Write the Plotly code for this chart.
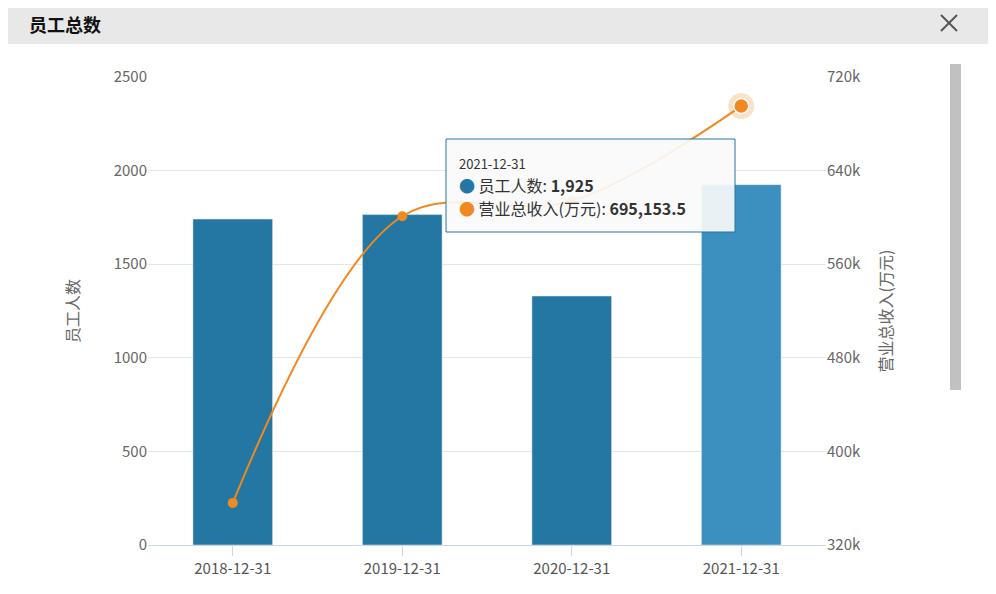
import plotly.graph_objects as go

categories = ["2018-12-31", "2019-12-31", "2020-12-31", "2021-12-31"]
employees = [1741, 1765, 1330, 1925]
revenue = [356000, 601000, 614000, 695153.5]
bar_colors = ["#2477a3", "#2477a3", "#2477a3", "#3c90bf"]

O = 8  # page body offset
W, H = 996, 594
L, R, T, B = 148 - O, 170 + O, 77 - O, 49 + O
pw, ph = W - L - R, H - T - B
def px(x): return (x - O - L) / pw
def py(y): return (H - B - (y - O)) / ph

fig = go.Figure()
fig.add_trace(go.Bar(x=categories, y=employees, marker_color=bar_colors, width=0.47, name="员工人数"))
fig.add_trace(go.Scatter(x=categories, y=revenue, yaxis="y2", mode="lines+markers",
                         line=dict(color="#f0891f", width=2, shape="spline", smoothing=1.0),
                         marker=dict(size=10, color="#f0891f"), name="营业总收入(万元)"))
fig.add_trace(go.Scatter(x=[categories[3]], y=[revenue[3]], yaxis="y2", mode="markers",
                         marker=dict(size=26, color="rgba(240,137,31,0.25)"), showlegend=False))
fig.add_trace(go.Scatter(x=[categories[3]], y=[revenue[3]], yaxis="y2", mode="markers",
                         marker=dict(size=15, color="#f0891f", line=dict(color="white", width=1.5)), showlegend=False))

font = "Noto Sans CJK SC"
fig.update_layout(
    width=W, height=H, margin=dict(l=L, r=R, t=T, b=B), showlegend=False,
    plot_bgcolor="white", paper_bgcolor="white", font=dict(family=font, color="#666", size=15),
    xaxis=dict(type="category", showline=True, linecolor="#ccd6eb", ticks="outside", tickcolor="#ccd6eb",
               ticklen=10, showgrid=False, tickfont=dict(size=15, color="#555")),
    yaxis=dict(range=[0, 2500], dtick=500, gridcolor="#e6e6e6", zeroline=False,
               title=dict(text="员工人数", font=dict(size=16, color="#666"), standoff=30)),
    yaxis2=dict(range=[320000, 720000], overlaying="y", side="right", showgrid=False,
                tickvals=[320000, 400000, 480000, 560000, 640000, 720000],
                ticktext=["320k", "400k", "480k", "560k", "640k", "720k"], zeroline=False,
                title=dict(text="营业总收入(万元)", font=dict(size=16, color="#666"), standoff=20)),
)
shapes = [
    dict(type="rect", xref="paper", yref="paper", x0=px(0), x1=px(W + 20), y0=py(44), y1=py(0),
         fillcolor="#e8e8e8", line_width=0, layer="below"),
    dict(type="line", xref="paper", yref="paper", x0=px(941), x1=px(957), y0=py(15), y1=py(31), line=dict(color="#555", width=2)),
    dict(type="line", xref="paper", yref="paper", x0=px(941), x1=px(957), y0=py(31), y1=py(15), line=dict(color="#555", width=2)),
    dict(type="rect", xref="paper", yref="paper", x0=px(950), x1=px(961), y0=py(390), y1=py(64),
         fillcolor="#c1c1c1", line_width=0),
    dict(type="rect", xref="paper", yref="paper", x0=px(446), x1=px(735), y0=py(232), y1=py(139),
         fillcolor="rgba(250,250,250,0.92)", line=dict(color="#2477a3", width=1)),
]
fig.update_layout(shapes=shapes)
ann = [
    dict(xref="paper", yref="paper", x=px(27), y=py(24), text="<b>员工总数</b>", showarrow=False,
         xanchor="left", yanchor="middle", font=dict(size=18, color="#111", family=font)),
    dict(xref="paper", yref="paper", x=px(457), y=py(163), text="2021-12-31", showarrow=False,
         xanchor="left", yanchor="middle", font=dict(size=13, color="#333", family=font)),
    dict(xref="paper", yref="paper", x=px(457), y=py(185),
         text="<span style='color:#2477a3'>●</span> 员工人数: <b>1,925</b>", showarrow=False,
         xanchor="left", yanchor="middle", font=dict(size=16, color="#333", family=font)),
    dict(xref="paper", yref="paper", x=px(457), y=py(208),
         text="<span style='color:#f0891f'>●</span> 营业总收入(万元): <b>695,153.5</b>", showarrow=False,
         xanchor="left", yanchor="middle", font=dict(size=16, color="#333", family=font)),
]
fig.update_layout(annotations=ann)
fig.write_html("out.html")
